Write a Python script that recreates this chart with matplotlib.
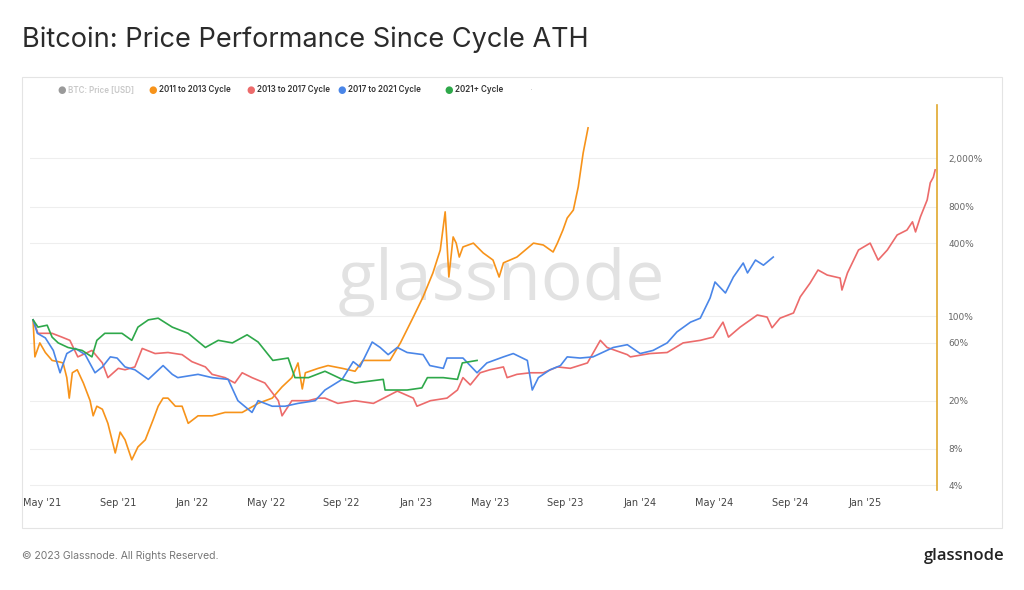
import numpy as np
import pandas as pd
import matplotlib
matplotlib.use("Agg")
import matplotlib.pyplot as plt
from matplotlib.patches import Rectangle
from matplotlib.ticker import FixedLocator, NullLocator

# days since cycle ATH (base 2021-04-16) and price change in %
base = pd.Timestamp("2021-04-16")

c11_days = [0, 3, 11, 20, 31, 41, 49, 55, 59, 64, 72, 82, 93, 98, 104, 113, 122, 134, 142, 150,
            161, 171, 183, 196, 204, 212, 220, 232, 243, 253, 269, 292, 313, 341, 367, 390, 406,
            422, 432, 439, 444, 465, 481, 504, 525, 538, 582, 599, 620, 636, 652, 664, 672, 675,
            678, 685, 690, 695, 701, 718, 734, 750, 760, 767, 789, 816, 832, 848, 855, 864, 871,
            881, 889, 897, 905]
c11_vals = [93, 46, 60, 50, 43, 42, 41, 31, 21, 34, 36, 28, 20, 15, 18, 17, 13, 7.4, 11, 9.5,
            6.5, 8.3, 9.5, 14, 18, 21, 21, 18, 18, 13, 15, 15, 16, 16, 19, 21, 26,
            31, 41, 25, 34, 37, 39, 37, 35, 43, 43, 60, 98, 144, 227, 351, 725, 400,
            210, 450, 400, 307, 372, 400, 332, 290, 210, 275, 307, 400, 386, 338, 400, 513, 645,
            750, 1165, 2220, 3580]

c13_days = [0, 8, 31, 47, 60, 73, 96, 113, 122, 139, 150, 166, 178, 199, 220, 243, 259, 281, 292,
            313, 329, 341, 357, 378, 400, 406, 422, 449, 465, 476, 497, 525, 555, 594, 620, 626,
            648, 675, 692, 701, 713, 729, 745, 767, 773, 789, 811, 832, 855, 876, 904, 925, 936,
            969, 974, 1006, 1034, 1060, 1088, 1109, 1125, 1134, 1153, 1181, 1197, 1205, 1218,
            1240, 1251, 1267, 1280, 1295, 1316, 1319, 1328, 1346, 1365, 1378, 1393, 1409, 1425,
            1434, 1439, 1447, 1458, 1463, 1468, 1471]
c13_vals = [93, 72, 72, 67, 63, 46, 52, 41, 31, 37, 36, 38, 54, 49, 50, 48, 42, 38, 33,
            31, 28, 34, 31, 28, 20, 15, 20, 20, 21, 21, 19, 20, 19, 24, 21, 18,
            20, 21, 24.5, 31, 27, 34, 36, 38, 31, 33, 34, 34, 38, 37, 41, 63, 55,
            48, 46, 49, 50, 60, 63, 67, 89, 67, 81, 102, 98, 80, 96,
            106, 144, 187, 240, 218, 206, 164, 227, 351, 400, 290, 351, 467, 513,
            600, 495, 660, 910, 1260, 1400, 1610]

c17_days = [0, 7, 20, 33, 44, 55, 69, 85, 101, 113, 126, 137, 150, 166, 188, 212, 227, 236, 269,
            292, 318, 334, 357, 367, 390, 411, 432, 460, 476, 504, 522, 533, 553, 566, 579, 594,
            610, 636, 647, 669, 675, 701, 724, 740, 767, 783, 806, 814, 824, 843, 860, 871, 892,
            913, 946, 969, 990, 1011, 1034, 1050, 1072, 1088, 1104, 1112, 1129, 1142, 1158, 1165,
            1178, 1191, 1207]
c17_vals = [93, 72, 66, 52, 34, 49, 54, 48, 34, 38, 46, 45, 38, 36, 30, 39, 33, 31, 33,
            31, 30, 20, 16, 20, 18, 18, 19, 20, 24.5, 30, 42, 38, 61, 55, 48, 55,
            50, 48, 39, 37, 45, 45, 34, 41, 46, 49, 43, 24.5, 31, 36, 39, 46, 45,
            46, 55, 58, 49, 52, 60, 74, 89, 96, 141, 191, 155, 210, 274, 227,
            290, 263, 307]

c21_days = [0, 8, 23, 31, 41, 57, 80, 96, 104, 117, 145, 161, 171, 188, 204, 227, 253, 281, 302,
            325, 349, 367, 391, 416, 427, 449, 476, 504, 525, 571, 574, 610, 634, 643, 669, 692,
            700, 724]
c21_vals = [93, 81, 84, 67, 60, 55, 52, 46, 63, 72, 72, 63, 81, 93, 96, 81, 72, 55, 63,
            60, 70, 61, 43, 45, 31, 31, 35, 30, 28, 30, 24.5, 24.5, 25.5, 31, 31, 30,
            41, 43]

x_ticks = ["2021-05-01", "2021-09-01", "2022-01-01", "2022-05-01", "2022-09-01", "2023-01-01",
           "2023-05-01", "2023-09-01", "2024-01-01", "2024-05-01", "2024-09-01", "2025-01-01"]
x_labels = ["May '21", "Sep '21", "Jan '22", "May '22", "Sep '22", "Jan '23",
            "May '23", "Sep '23", "Jan '24", "May '24", "Sep '24", "Jan '25"]
y_ticks = [4, 8, 20, 60, 100, 400, 800, 2000]
y_labels = ["4%", "8%", "20%", "60%", "100%", "400%", "800%", "2,000%"]

series = [
    ("2011 to 2013 Cycle", c11_days, c11_vals, "#f7931a"),
    ("2013 to 2017 Cycle", c13_days, c13_vals, "#ec6b6b"),
    ("2017 to 2021 Cycle", c17_days, c17_vals, "#4a86e8"),
    ("2021+ Cycle", c21_days, c21_vals, "#2ea84a"),
]

fig = plt.figure(figsize=(10.24, 5.9), dpi=100)
fig.patch.set_facecolor("white")
fig.add_artist(Rectangle((22 / 1024, 1 - 528 / 590), 980 / 1024, 451 / 590, transform=fig.transFigure,
                         fill=False, edgecolor="#e4e4e4", linewidth=0.8))

ax = fig.add_axes([30 / 1024, 1 - 490 / 590, 907 / 1024, 385 / 590])
ax.set_yscale("log")
ax.set_ylim(3.66, 5530)
ax.set_xlim(base + pd.Timedelta(days=-5), base + pd.Timedelta(days=1474))

for name, d, v, col in series:
    dates = base + pd.to_timedelta(d, unit="D")
    ax.plot(dates, v, color=col, linewidth=1.2, zorder=3)

ax.yaxis.tick_right()
ax.yaxis.set_major_locator(FixedLocator(y_ticks))
ax.yaxis.set_minor_locator(NullLocator())
ax.set_yticklabels(y_labels)
ax.tick_params(axis="y", length=0, pad=8, labelsize=6.5, labelcolor="#666666")
ax.set_xticks([pd.Timestamp(t) for t in x_ticks])
ax.set_xticklabels(x_labels)
ax.tick_params(axis="x", length=0, pad=6, labelsize=7, labelcolor="#444444")
ax.grid(axis="y", color="#eeeeee", linewidth=0.8)
for s in ["top", "left", "bottom"]:
    ax.spines[s].set_visible(False)
ax.spines["right"].set_color("#e0a82e")
ax.spines["right"].set_linewidth(1.2)

ax.text(0.52, 0.54, "glassnode", transform=ax.transAxes, fontsize=50, color="#e2e2e2",
        ha="center", va="center", family="Open Sans", fontweight="medium", zorder=1)

fig.text(22 / 1024, 1 - 40 / 590, "Bitcoin: Price Performance Since Cycle ATH", fontsize=19.5,
         color="#2b2b2b", va="center", family="Inter")

legend_items = [("BTC: Price [USD]", "#9a9a9a", "#c8c8c8", 62),
                ("2011 to 2013 Cycle", "#f7931a", "#333333", 153),
                ("2013 to 2017 Cycle", "#ec6b6b", "#333333", 251),
                ("2017 to 2021 Cycle", "#4a86e8", "#333333", 342),
                ("2021+ Cycle", "#2ea84a", "#333333", 449)]
for label, dot, tcol, px in legend_items:
    fig.text(px / 1024, 1 - 90 / 590, "\u25cf", color=dot, fontsize=7, va="center", ha="center")
    fig.text((px + 6) / 1024, 1 - 90 / 590, label, color=tcol, fontsize=5.8, va="center",
             fontweight="semibold", family="Inter")
fig.text(530 / 1024, 1 - 90 / 590, "\u00b7", color="#cccccc", fontsize=7, va="center")

fig.text(22 / 1024, 1 - 556 / 590, "\u00a9 2023 Glassnode. All Rights Reserved.", fontsize=7.5,
         color="#777777", va="center", family="Inter")
fig.text(1005 / 1024, 1 - 556 / 590, "glassnode", fontsize=12, color="#222222", va="center",
         ha="right", fontweight="semibold", family="Open Sans")

fig.savefig("out.png", dpi=100, facecolor="white")
